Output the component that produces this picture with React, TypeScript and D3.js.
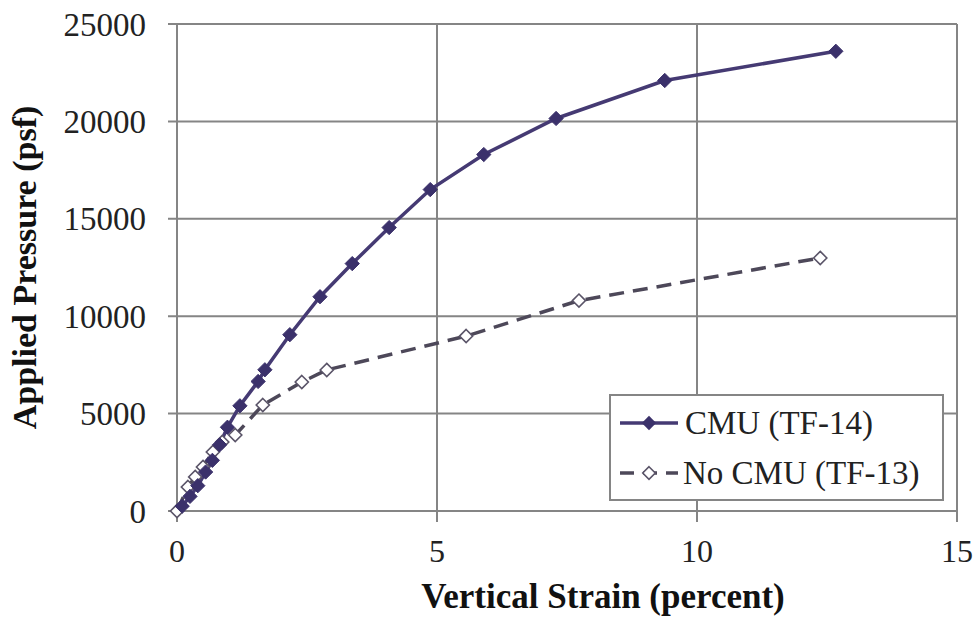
import React, { useEffect, useRef } from 'react';
import * as d3 from 'd3';

// Vertical strain (percent) vs applied pressure (psf)
const cmuStrain = [0.1, 0.25, 0.4, 0.55, 0.68, 0.82, 0.97, 1.21, 1.56, 1.69, 2.17, 2.75, 3.37, 4.08, 4.87, 5.9, 7.29, 9.38, 12.67];
const cmuPressure = [250, 750, 1300, 2000, 2600, 3400, 4300, 5400, 6650, 7250, 9050, 11000, 12700, 14550, 16500, 18300, 20150, 22100, 23600];

const noCmuStrain = [0, 0.21, 0.35, 0.5, 0.69, 0.87, 1.12, 1.65, 2.4, 2.88, 5.56, 7.73, 12.37];
const noCmuPressure = [0, 1230, 1750, 2260, 3030, 3540, 3900, 5440, 6620, 7240, 8980, 10800, 12990];

const xTicks = [0, 5, 10, 15];
const yTicks = [0, 5000, 10000, 15000, 20000, 25000];
const seriesNames = ['CMU (TF-14)', 'No CMU (TF-13)'];

const W = 975;
const H = 620;
const FONT = '"Liberation Serif", "Times New Roman", serif';

export default function App() {
  const svgRef = useRef<SVGSVGElement>(null);

  useEffect(() => {
    if (!svgRef.current) return;
    const svg = d3.select(svgRef.current);
    svg.selectAll('*').remove();

    const x = d3.scaleLinear().domain([0, 15]).range([177, 957]);
    const y = d3.scaleLinear().domain([0, 25000]).range([511, 24]);

    svg.append('rect').attr('width', W).attr('height', H).attr('fill', '#fff');

    const grid = '#858585';

    // gridlines
    svg.append('g')
      .selectAll('line')
      .data(yTicks)
      .join('line')
      .attr('x1', x(0) - 9)
      .attr('x2', x(15))
      .attr('y1', d => y(d))
      .attr('y2', d => y(d))
      .attr('stroke', grid)
      .attr('stroke-width', 2);

    svg.append('g')
      .selectAll('line')
      .data(xTicks)
      .join('line')
      .attr('x1', d => x(d))
      .attr('x2', d => x(d))
      .attr('y1', y(25000))
      .attr('y2', y(0) + 11)
      .attr('stroke', grid)
      .attr('stroke-width', 2);

    // tick labels
    svg.append('g')
      .selectAll('text')
      .data(yTicks)
      .join('text')
      .attr('x', 146)
      .attr('y', d => y(d))
      .attr('dy', '0.35em')
      .attr('text-anchor', 'end')
      .attr('font-family', FONT)
      .attr('font-size', 33)
      .attr('fill', '#222')
      .text(d => String(d));

    svg.append('g')
      .selectAll('text')
      .data(xTicks)
      .join('text')
      .attr('x', d => x(d))
      .attr('y', 562)
      .attr('text-anchor', 'middle')
      .attr('font-family', FONT)
      .attr('font-size', 32)
      .attr('fill', '#222')
      .text(d => String(d));

    // axis titles
    svg.append('text')
      .attr('x', 603)
      .attr('y', 608)
      .attr('text-anchor', 'middle')
      .attr('font-family', FONT)
      .attr('font-weight', 'bold')
      .attr('font-size', 35)
      .attr('fill', '#111')
      .text('Vertical Strain (percent)');

    svg.append('text')
      .attr('transform', `translate(36, ${(y(0) + y(25000)) / 2}) rotate(-90)`)
      .attr('text-anchor', 'middle')
      .attr('font-family', FONT)
      .attr('font-weight', 'bold')
      .attr('font-size', 34)
      .attr('fill', '#111')
      .text('Applied Pressure (psf)');

    const cmu = cmuStrain.map((s, i) => [s, cmuPressure[i]] as [number, number]);
    const noCmu = noCmuStrain.map((s, i) => [s, noCmuPressure[i]] as [number, number]);

    const line = d3.line<[number, number]>().x(d => x(d[0])).y(d => y(d[1]));
    const diamond = d3.symbol().type(d3.symbolDiamond2);

    // No CMU (dashed, open markers)
    svg.append('path')
      .attr('d', line(noCmu))
      .attr('fill', 'none')
      .attr('stroke', '#4d4859')
      .attr('stroke-width', 3.5)
      .attr('stroke-dasharray', '15,9');

    // CMU (solid, filled markers)
    svg.append('path')
      .attr('d', line(cmu))
      .attr('fill', 'none')
      .attr('stroke', '#453a73')
      .attr('stroke-width', 3.5);

    svg.append('g')
      .selectAll('path')
      .data(noCmu)
      .join('path')
      .attr('transform', d => `translate(${x(d[0])},${y(d[1])})`)
      .attr('d', diamond.size(110)())
      .attr('fill', '#fff')
      .attr('stroke', '#5a5468')
      .attr('stroke-width', 1.6);

    svg.append('g')
      .selectAll('path')
      .data(cmu)
      .join('path')
      .attr('transform', d => `translate(${x(d[0])},${y(d[1])})`)
      .attr('d', diamond.size(130)())
      .attr('fill', '#3b316b')
      .attr('stroke', '#3b316b')
      .attr('stroke-width', 1);

    // legend
    const lg = svg.append('g');
    lg.append('rect')
      .attr('x', 610)
      .attr('y', 395)
      .attr('width', 333)
      .attr('height', 105)
      .attr('fill', '#fff')
      .attr('stroke', '#858585')
      .attr('stroke-width', 2);

    lg.append('line')
      .attr('x1', 620).attr('x2', 678).attr('y1', 423).attr('y2', 423)
      .attr('stroke', '#453a73').attr('stroke-width', 3.5);
    lg.append('path')
      .attr('transform', 'translate(649,423)')
      .attr('d', diamond.size(130)())
      .attr('fill', '#3b316b');

    lg.append('line')
      .attr('x1', 620).attr('x2', 678).attr('y1', 473).attr('y2', 473)
      .attr('stroke', '#4d4859').attr('stroke-width', 3.5)
      .attr('stroke-dasharray', '14,9,14,9');
    lg.append('path')
      .attr('transform', 'translate(649,473)')
      .attr('d', diamond.size(100)())
      .attr('fill', '#fff')
      .attr('stroke', '#5a5468')
      .attr('stroke-width', 1.6);

    lg.selectAll('text')
      .data(seriesNames)
      .join('text')
      .attr('x', (_, i) => (i === 0 ? 685 : 683))
      .attr('y', (_, i) => (i === 0 ? 434 : 484))
      .attr('font-family', FONT)
      .attr('font-size', 33)
      .attr('fill', '#222')
      .text(d => d);
  }, []);

  return (
    <svg
      ref={svgRef}
      width={W}
      height={H}
      style={{ position: 'absolute', left: 0, top: 0 }}
    />
  );
}
